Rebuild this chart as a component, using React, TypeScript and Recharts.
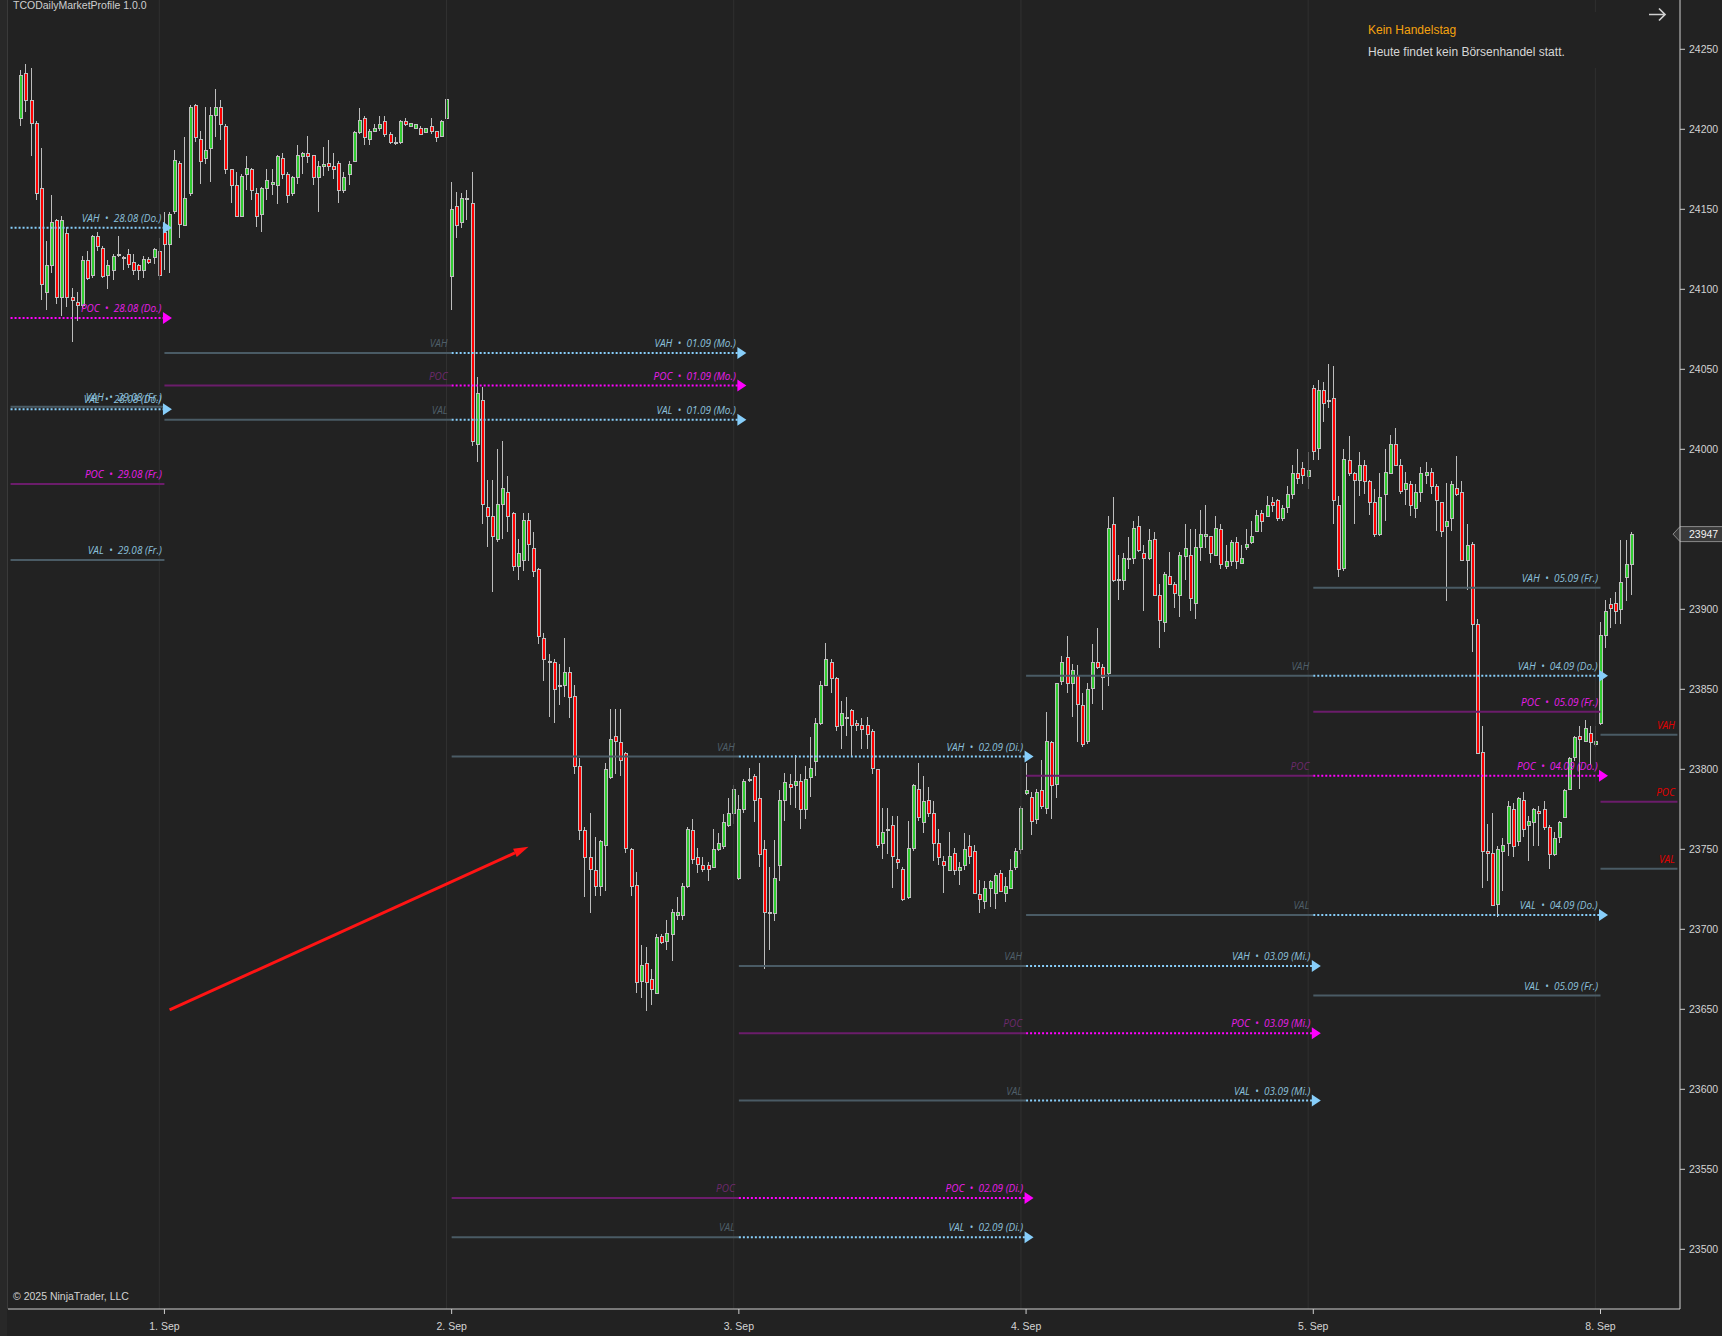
import React from 'react';
import { ComposedChart, Bar, XAxis, YAxis, ReferenceLine, ReferenceDot } from 'recharts';

type Candle = [number, number, number, number]; // open, high, low, close

// tail of the 29.08 (Fr.) session
const bars2908: Candle[] = [
  [24207, 24237, 24202, 24234], [24235, 24241, 24211, 24218], [24218, 24238, 24183, 24204], [24204, 24205, 24156, 24160],
  [24163, 24188, 24093, 24103], [24098, 24130, 24087, 24115], [24115, 24159, 24110, 24142], [24143, 24144, 24091, 24095],
  [24095, 24146, 24083, 24143], [24135, 24139, 24089, 24095], [24095, 24101, 24067, 24093], [24092, 24098, 24080, 24090],
  [24090, 24121, 24088, 24118], [24118, 24124, 24106, 24107], [24109, 24134, 24107, 24133], [24133, 24136, 24124, 24127],
  [24126, 24127, 24107, 24108], [24109, 24118, 24100, 24115], [24112, 24122, 24106, 24121], [24122, 24133, 24120, 24122],
  [24120, 24121, 24112, 24120], [24122, 24125, 24113, 24116], [24117, 24122, 24109, 24112], [24115, 24116, 24106, 24112],
  [24112, 24121, 24107, 24119], [24119, 24120, 24116, 24117], [24120, 24126, 24116, 24125], [24124, 24132, 24106, 24109],
];

const bars0109: Candle[] = [
  [24136, 24148, 24112, 24128], [24128, 24148, 24110, 24147], [24149, 24187, 24147, 24181], [24179, 24180, 24132, 24141],
  [24140, 24195, 24140, 24157], [24160, 24215, 24158, 24214], [24215, 24216, 24192, 24195], [24194, 24199, 24166, 24180],
  [24182, 24214, 24178, 24187], [24188, 24214, 24167, 24209], [24209, 24225, 24195, 24214], [24214, 24218, 24193, 24203],
  [24202, 24203, 24172, 24175], [24175, 24175, 24154, 24165], [24165, 24173, 24145, 24146], [24146, 24172, 24145, 24171],
  [24172, 24183, 24162, 24176], [24175, 24176, 24156, 24162], [24160, 24163, 24139, 24146], [24147, 24164, 24136, 24163],
  [24163, 24175, 24156, 24168], [24166, 24175, 24159, 24167], [24165, 24184, 24153, 24183], [24182, 24185, 24169, 24172],
  [24172, 24173, 24154, 24159], [24160, 24171, 24158, 24170], [24170, 24190, 24166, 24184], [24183, 24186, 24172, 24185],
  [24185, 24196, 24179, 24183], [24184, 24184, 24165, 24170], [24170, 24180, 24148, 24177], [24177, 24189, 24171, 24178],
  [24179, 24193, 24174, 24177], [24177, 24185, 24169, 24175], [24179, 24180, 24154, 24162], [24162, 24173, 24160, 24170],
  [24172, 24180, 24165, 24178], [24180, 24199, 24180, 24198], [24198, 24213, 24197, 24206], [24207, 24208, 24190, 24195],
  [24194, 24200, 24190, 24199], [24199, 24203, 24198, 24201], [24201, 24208, 24199, 24203], [24205, 24208, 24195, 24197],
  [24197, 24198, 24191, 24192], [24192, 24195, 24190, 24192], [24192, 24206, 24191, 24205], [24205, 24207, 24202, 24203],
  [24202, 24204, 24202, 24204], [24201, 24203, 24200, 24203], [24201, 24202, 24197, 24197], [24198, 24201, 24198, 24201],
  [24202, 24207, 24197, 24199], [24199, 24199, 24192, 24195], [24196, 24206, 24196, 24205], [24207, 24219, 24203, 24219],
];

const bars0209: Candle[] = [
  [24108, 24167, 24087, 24150], [24152, 24161, 24132, 24140], [24142, 24160, 24138, 24157], [24157, 24162, 24143, 24157],
  [24154, 24173, 24002, 24005], [24003, 24045, 23992, 24035], [24031, 24039, 23953, 23966], [23964, 23981, 23939, 23958],
  [23958, 23981, 23911, 23946], [23944, 24000, 23942, 23966], [23966, 24005, 23944, 23976], [23973, 23983, 23948, 23958],
  [23960, 23961, 23924, 23927], [23927, 23944, 23918, 23935], [23931, 23960, 23924, 23956], [23956, 23960, 23930, 23941],
  [23938, 23948, 23920, 23924], [23925, 23926, 23878, 23883], [23882, 23885, 23855, 23869], [23868, 23872, 23833, 23867],
  [23867, 23869, 23829, 23850], [23853, 23866, 23840, 23853], [23853, 23882, 23845, 23861], [23861, 23864, 23832, 23845],
  [23846, 23853, 23797, 23802], [23802, 23807, 23756, 23762], [23762, 23764, 23720, 23745], [23745, 23773, 23710, 23738],
  [23737, 23758, 23721, 23727], [23727, 23756, 23721, 23755], [23753, 23804, 23724, 23800], [23795, 23838, 23794, 23819],
  [23821, 23838, 23797, 23818], [23817, 23838, 23796, 23806], [23810, 23811, 23748, 23751], [23750, 23751, 23721, 23727],
  [23728, 23736, 23660, 23667], [23668, 23690, 23657, 23678], [23679, 23689, 23649, 23667], [23669, 23675, 23653, 23663],
  [23660, 23697, 23660, 23695], [23696, 23697, 23691, 23692], [23693, 23706, 23687, 23698], [23697, 23713, 23680, 23711],
  [23709, 23720, 23706, 23711], [23709, 23729, 23706, 23727], [23727, 23764, 23726, 23763], [23762, 23769, 23741, 23744],
  [23745, 23751, 23735, 23741], [23740, 23745, 23736, 23738], [23740, 23742, 23730, 23738], [23739, 23763, 23739, 23750],
  [23750, 23760, 23749, 23754], [23752, 23772, 23750, 23767], [23765, 23782, 23764, 23773], [23773, 23790, 23766, 23788],
];

const bars0309: Candle[] = [
  [23732, 23784, 23731, 23775], [23775, 23794, 23773, 23793], [23794, 23801, 23792, 23794], [23796, 23797, 23767, 23781],
  [23782, 23804, 23739, 23747], [23750, 23756, 23675, 23711], [23711, 23739, 23687, 23710], [23710, 23756, 23705, 23732],
  [23740, 23787, 23730, 23781], [23781, 23798, 23768, 23792], [23791, 23797, 23778, 23789], [23790, 23809, 23776, 23793],
  [23793, 23797, 23763, 23775], [23775, 23802, 23769, 23794], [23795, 23820, 23783, 23801], [23805, 23832, 23796, 23829],
  [23829, 23855, 23828, 23853], [23853, 23879, 23852, 23869], [23867, 23869, 23848, 23857], [23857, 23858, 23824, 23827],
  [23828, 23843, 23813, 23835], [23833, 23845, 23821, 23833], [23837, 23838, 23808, 23828], [23829, 23831, 23824, 23828],
  [23828, 23832, 23813, 23825], [23828, 23833, 23813, 23822], [23824, 23825, 23797, 23801], [23800, 23800, 23751, 23753],
  [23754, 23776, 23744, 23761], [23763, 23776, 23747, 23763], [23765, 23771, 23726, 23746], [23744, 23771, 23738, 23742],
  [23738, 23739, 23718, 23719], [23720, 23768, 23719, 23751], [23751, 23791, 23749, 23790], [23788, 23804, 23768, 23770],
  [23767, 23796, 23760, 23780], [23781, 23789, 23770, 23773], [23773, 23780, 23743, 23754], [23754, 23763, 23740, 23745],
  [23743, 23746, 23723, 23740], [23737, 23761, 23737, 23746], [23748, 23751, 23734, 23737], [23737, 23742, 23728, 23739],
  [23740, 23760, 23737, 23750], [23752, 23759, 23741, 23746], [23749, 23753, 23723, 23723], [23722, 23731, 23710, 23719],
  [23718, 23730, 23713, 23726], [23726, 23731, 23714, 23730], [23723, 23735, 23713, 23734], [23735, 23737, 23724, 23724],
  [23723, 23733, 23717, 23727], [23726, 23744, 23726, 23737], [23739, 23751, 23737, 23749], [23750, 23777, 23747, 23776],
];

const bars0409: Candle[] = [
  [23785, 23804, 23784, 23787], [23783, 23786, 23759, 23768], [23769, 23788, 23766, 23786], [23787, 23806, 23775, 23777],
  [23776, 23836, 23772, 23818], [23817, 23818, 23769, 23790], [23791, 23854, 23782, 23854], [23855, 23871, 23853, 23867],
  [23870, 23883, 23848, 23854], [23854, 23866, 23833, 23862], [23859, 23865, 23817, 23841], [23840, 23848, 23814, 23816],
  [23818, 23854, 23816, 23850], [23851, 23878, 23841, 23867], [23867, 23888, 23863, 23864], [23864, 23866, 23837, 23858],
  [23860, 23958, 23852, 23951], [23953, 23970, 23917, 23918], [23919, 23934, 23906, 23918], [23918, 23935, 23912, 23932],
  [23932, 23945, 23925, 23932], [23932, 23955, 23928, 23951], [23952, 23958, 23936, 23937], [23935, 23940, 23899, 23932],
  [23932, 23950, 23931, 23943], [23944, 23948, 23908, 23909], [23909, 23916, 23876, 23893], [23892, 23923, 23886, 23922],
  [23921, 23936, 23915, 23916], [23916, 23917, 23901, 23910], [23909, 23936, 23895, 23934], [23933, 23953, 23918, 23938],
  [23934, 23950, 23899, 23907], [23904, 23950, 23894, 23939], [23939, 23962, 23930, 23947], [23946, 23965, 23938, 23947],
  [23946, 23946, 23929, 23935], [23934, 23958, 23933, 23951], [23950, 23953, 23925, 23928], [23927, 23940, 23925, 23930],
  [23930, 23943, 23927, 23942], [23942, 23945, 23925, 23930], [23929, 23940, 23928, 23932], [23939, 23950, 23937, 23941],
  [23942, 23955, 23941, 23946], [23949, 23962, 23949, 23959], [23960, 23962, 23948, 23955], [23958, 23971, 23958, 23965],
  [23967, 23970, 23961, 23965], [23968, 23969, 23955, 23957], [23957, 23965, 23955, 23963], [23964, 23977, 23960, 23972],
  [23972, 23990, 23969, 23985], [23985, 24000, 23978, 23982], [23988, 23992, 23978, 23984], [23983, 23998, 23975, 23987],
];

const bars0509: Candle[] = [
  [24038, 24040, 23993, 23999], [24001, 24043, 23993, 24037], [24037, 24042, 24017, 24029], [24031, 24053, 24026, 24030],
  [24032, 24052, 23953, 23968], [23965, 23971, 23920, 23925], [23926, 24000, 23924, 23994], [23993, 24008, 23983, 23985],
  [23985, 23986, 23953, 23981], [23981, 23998, 23971, 23990], [23990, 23993, 23972, 23980], [23980, 23981, 23959, 23967],
  [23967, 23975, 23945, 23947], [23947, 23985, 23946, 23970], [23972, 24000, 23955, 23986], [23985, 24009, 23985, 24003],
  [24003, 24013, 23990, 23990], [23990, 23994, 23972, 23974], [23975, 23986, 23965, 23979], [23978, 23980, 23958, 23965],
  [23963, 23978, 23957, 23973], [23973, 23989, 23967, 23985], [23984, 23992, 23978, 23986], [23986, 23988, 23972, 23977],
  [23977, 23978, 23949, 23968], [23967, 23967, 23945, 23949], [23952, 23979, 23905, 23955], [23957, 23980, 23949, 23978],
  [23976, 23996, 23971, 23972], [23973, 23980, 23930, 23931], [23931, 23953, 23912, 23940], [23941, 23942, 23873, 23891],
  [23891, 23894, 23810, 23810], [23811, 23827, 23726, 23749], [23749, 23766, 23730, 23748], [23748, 23773, 23715, 23715],
  [23716, 23752, 23708, 23750], [23749, 23757, 23724, 23753], [23754, 23780, 23746, 23777], [23775, 23779, 23745, 23752],
  [23755, 23783, 23752, 23782], [23781, 23786, 23758, 23763], [23765, 23771, 23743, 23768], [23767, 23776, 23752, 23775],
  [23774, 23777, 23752, 23773], [23775, 23780, 23762, 23764], [23764, 23765, 23738, 23747], [23747, 23761, 23746, 23757],
  [23758, 23768, 23754, 23767], [23770, 23788, 23770, 23787], [23788, 23808, 23787, 23807], [23808, 23821, 23805, 23820],
  [23821, 23827, 23788, 23819], [23818, 23831, 23818, 23826], [23823, 23827, 23803, 23817], [23816, 23827, 23814, 23818],
];

const bars0809: Candle[] = [
  [23829, 23892, 23828, 23884], [23884, 23906, 23876, 23899], [23903, 23907, 23888, 23901], [23904, 23911, 23891, 23899],
  [23900, 23943, 23891, 23917], [23920, 23943, 23905, 23928], [23928, 23948, 23909, 23947],
];

const sessions = [bars2908, bars0109, bars0209, bars0309, bars0409, bars0509, bars0809];
const dayLabels = ['1. Sep', '2. Sep', '3. Sep', '4. Sep', '5. Sep', '8. Sep'];
const priceTicks = [23500, 23550, 23600, 23650, 23700, 23750, 23800, 23850, 23900, 23950, 24000, 24050, 24100, 24150, 24200, 24250];

// market profile levels per session
const profileDates = ['28.08 (Do.)', '29.08 (Fr.)', '01.09 (Mo.)', '02.09 (Di.)', '03.09 (Mi.)', '04.09 (Do.)', '05.09 (Fr.)', '08.09 (Mo.)'];
const profileVAH = [24138.5, 24026.6, 24060.2, 23808, 23677, 23858.5, 23913.4, 23821.6];
const profilePOC = [24082, 23978.3, 24039.8, 23532, 23635, 23796, 23836, 23779.7];
const profileVAL = [24025, 23930.8, 24018.5, 23507.5, 23593, 23709, 23658.6, 23737.9];
const profileSession = [-1, 0, 1, 2, 3, 4, 5, 6];
const profileNaked = [true, false, true, true, true, true, false, false];
const profileTagMode = ['none', 'date', 'plain', 'plain', 'plain', 'plain', 'date', 'live'];

// hand-drawn arrow (bar index, price)
const annotationBars = [29, 99];
const annotationPrices = [23649.6, 23751.6];

const LEAD = 2;
const TRAIL = 9;
const Y_MIN = 23462.69;
const Y_MAX = 24280.81;

const BG = '#222222';
const GRID = '#303030';
const AXIS = '#cfcfcf';
const TEXT = '#d4d4d4';
const WICK = '#bdbdbd';
const OUTLINE = '#bfbfbf';
const UP = '#32cd32';
const DOWN = '#ff0000';
const SLATE = '#4a5b65';
const PURPLE = '#6b1d6b';
const SKY = '#87cefa';
const MAGENTA = '#ff00ff';
const UI_FONT = '"Liberation Sans", Arial, sans-serif';
const TAG_FONT = '"Open Sans", "Noto Sans", sans-serif';

const allBars: Candle[] = sessions.flat();
const sessionStarts: number[] = [];
{
  let n = 0;
  sessions.forEach((s, idx) => {
    if (idx > 0) sessionStarts.push(n);
    n += s.length;
  });
}
const totalRows = LEAD + allBars.length + TRAIL;
const rows = Array.from({ length: totalRows }, (_, k) => {
  const b = allBars[k - LEAD];
  return b ? { k, o: b[0], h: b[1], l: b[2], c: b[3], range: [b[2], b[1]] } : { k };
});
const bounds = [-LEAD, ...sessionStarts, totalRows - LEAD - 1];
const lastClose = allBars[allBars.length - 1][3];

const CandleShape = (props: any) => {
  const { x, y, width, height, payload } = props;
  if (!payload || payload.h == null || !isFinite(y) || !isFinite(height)) return null;
  const top = Math.min(y, y + height);
  const bottom = Math.max(y, y + height);
  const toY = (v: number) => top + ((payload.h - v) / (payload.h - payload.l)) * (bottom - top);
  const cx = Math.floor(x + width / 2);
  const yo = toY(payload.o);
  const yc = toY(payload.c);
  const bTop = Math.round(Math.min(yo, yc));
  const bBot = Math.round(Math.max(yo, yc));
  const bh = Math.max(bBot - bTop, 1);
  const wTop = Math.round(top);
  const wBot = Math.round(bottom);
  return (
    <g shapeRendering="crispEdges">
      <rect x={cx} y={wTop} width={1} height={Math.max(wBot - wTop, 1)} fill={WICK} />
      <rect x={cx - 1} y={bTop} width={4} height={bh + 1} fill={OUTLINE} />
      {bh >= 2 && <rect x={cx} y={bTop + 1} width={2} height={bh - 1} fill={payload.c >= payload.o ? UP : DOWN} />}
    </g>
  );
};

const PriceTick = (props: any) => {
  const { x, y, payload } = props;
  // the last-price tag covers the neighbouring tick
  if (Math.abs(payload.value - lastClose) < 6) return <g />;
  return (
    <g>
      <line x1={x - 9} x2={x - 4} y1={y} y2={y} stroke={AXIS} />
      <text x={x} y={y} dy="0.355em" fontSize={10.5} fontFamily={UI_FONT} fill={TEXT} textAnchor="start">
        {payload.value}
      </text>
    </g>
  );
};

const LevelTag = ({ cx, cy, text, color, arrow, gap }: any) => (
  <g>
    {arrow && <polygon points={`${cx - 1.5},${cy - 6} ${cx + 7.5},${cy} ${cx - 1.5},${cy + 6}`} fill={arrow} />}
    <text
      x={cx - gap}
      y={cy - 6}
      textAnchor="end"
      fontSize={10}
      fontStyle="italic"
      fontFamily={TAG_FONT}
      fill={color}
      style={{ whiteSpace: 'pre' }}
    >
      {text}
    </text>
  </g>
);

const AnnotationArrow = (p: any) => {
  const { x1, y1, x2, y2 } = p;
  const a = Math.atan2(y2 - y1, x2 - x1);
  const len = 15;
  const w = 4.5;
  const bx = x2 - len * Math.cos(a);
  const by = y2 - len * Math.sin(a);
  const nx = -Math.sin(a);
  const ny = Math.cos(a);
  return (
    <g>
      <line x1={x1} y1={y1} x2={bx} y2={by} stroke="#ff1414" strokeWidth={3} />
      <polygon points={`${x2},${y2} ${bx + nx * w},${by + ny * w} ${bx - nx * w},${by - ny * w}`} fill="#ff1414" />
    </g>
  );
};

const PriceTag = (p: any) => {
  const x = Math.max(p.x1, p.x2);
  const y = p.y1;
  return (
    <g>
      <polygon
        points={`${x - 7},${y} ${x},${y - 7.5} ${x + 48},${y - 7.5} ${x + 48},${y + 7.5} ${x},${y + 7.5}`}
        fill="#3a3a3a"
        stroke="#8a8a8a"
        strokeWidth={1}
      />
      <text x={x + 9} y={y + 4} fontSize={10.5} fontFamily={UI_FONT} fill="#f2f2f2">
        {lastClose}
      </text>
    </g>
  );
};

const kinds = ['VAH', 'POC', 'VAL'];
const levelLines: React.ReactElement[] = [];
const levelTags: React.ReactElement[] = [];
profileDates.forEach((date, p) => {
  const s = profileSession[p];
  kinds.forEach((kind, j) => {
    const price = [profileVAH, profilePOC, profileVAL][j][p];
    const poc = j === 1;
    const key = `${p}-${kind}`;
    if (s >= 0) {
      levelLines.push(
        <ReferenceLine
          key={`s${key}`}
          segment={[{ x: bounds[s] + LEAD, y: price }, { x: bounds[s + 1] + LEAD, y: price }]}
          stroke={poc ? PURPLE : SLATE}
          strokeWidth={2}
        />
      );
    }
    if (profileNaked[p]) {
      levelLines.push(
        <ReferenceLine
          key={`n${key}`}
          segment={[{ x: bounds[s + 1] + LEAD, y: price }, { x: bounds[s + 2] + LEAD, y: price }]}
          stroke={poc ? MAGENTA : SKY}
          strokeWidth={2}
          strokeDasharray="2 2"
        />
      );
      levelTags.push(
        <ReferenceDot
          key={`na${key}`}
          x={bounds[s + 2] + LEAD}
          y={price}
          r={1}
          shape={(d: any) => (
            <LevelTag cx={d.cx} cy={d.cy} text={`${kind}  •  ${date}`} color={poc ? '#e81ee8' : '#8bc0dc'} arrow={poc ? MAGENTA : SKY} gap={3} />
          )}
        />
      );
    }
    const mode = profileTagMode[p];
    if (mode !== 'none') {
      const text = mode === 'date' ? `${kind}  •  ${date}` : kind;
      let color = poc ? '#6c2a6c' : '#4f5f69';
      if (mode === 'date') color = poc ? '#e81ee8' : '#8bc0dc';
      if (mode === 'live') color = '#e30000';
      const gap = mode === 'plain' ? 4 : 2.5;
      levelTags.push(
        <ReferenceDot
          key={`t${key}`}
          x={bounds[s + 1] + LEAD}
          y={price}
          r={1}
          shape={(d: any) => <LevelTag cx={d.cx} cy={d.cy} text={text} color={color} gap={gap} />}
        />
      );
    }
  });
});

export default function App() {
  return (
    <div style={{ position: 'absolute', left: 0, top: 0, width: 1722, height: 1336, background: BG, overflow: 'hidden' }}>
      <ComposedChart width={1722} height={1336} data={rows} margin={{ top: 0, right: 0, bottom: 0, left: 8 }}>
        <XAxis
          dataKey="k"
          type="category"
          ticks={sessionStarts.map((s) => s + LEAD)}
          interval={0}
          tickFormatter={(v: number) => dayLabels[sessionStarts.indexOf(v - LEAD)] ?? ''}
          height={27}
          tickSize={5}
          tickMargin={9}
          axisLine={{ stroke: AXIS }}
          tickLine={{ stroke: AXIS }}
          tick={{ fill: TEXT, fontSize: 10.5, fontFamily: UI_FONT }}
        />
        <YAxis
          orientation="right"
          type="number"
          domain={[Y_MIN, Y_MAX]}
          allowDataOverflow
          ticks={priceTicks}
          interval={0}
          width={42}
          tickSize={5}
          tickMargin={4}
          axisLine={{ stroke: AXIS }}
          tickLine={false}
          tick={PriceTick}
        />
        {sessionStarts.map((s) => (
          <ReferenceLine key={`g${s}`} x={s - 1 + LEAD} stroke={GRID} strokeWidth={1} />
        ))}
        {levelLines}
        <Bar dataKey="range" barSize={3} shape={CandleShape} isAnimationActive={false} />
        {levelTags}
        <ReferenceLine
          segment={[
            { x: annotationBars[0] + LEAD, y: annotationPrices[0] },
            { x: annotationBars[1] + LEAD, y: annotationPrices[1] },
          ]}
          shape={AnnotationArrow}
        />
        <ReferenceLine y={lastClose} stroke="none" shape={PriceTag} />
      </ComposedChart>
      <svg width={1722} height={1336} style={{ position: 'absolute', left: 0, top: 0, pointerEvents: 'none' }}>
        <rect x={0} y={0} width={7} height={1336} fill="#282828" />
        <line x1={7.5} y1={0} x2={7.5} y2={1309} stroke="#3a3a3a" />
        <text x={13} y={9} fontSize={10.5} fontFamily={UI_FONT} fill="#cfcfcf">TCODailyMarketProfile 1.0.0</text>
        <text x={13} y={1300} fontSize={10.5} fontFamily={UI_FONT} fill="#d2d2d2">© 2025 NinjaTrader, LLC</text>
        <rect x={1356} y={12} width={244} height={56} fill={BG} />
        <text x={1368} y={34} fontSize={12} fontFamily={UI_FONT} fill="#f5a20f">Kein Handelstag</text>
        <text x={1368} y={56} fontSize={12} fontFamily={UI_FONT} fill="#d6d6d6">Heute findet kein Börsenhandel statt.</text>
        <path d="M1649 14.5 H1665 M1659 8.5 L1665 14.5 L1659 20.5" stroke="#d0d0d0" strokeWidth={1.7} fill="none" />
      </svg>
    </div>
  );
}
